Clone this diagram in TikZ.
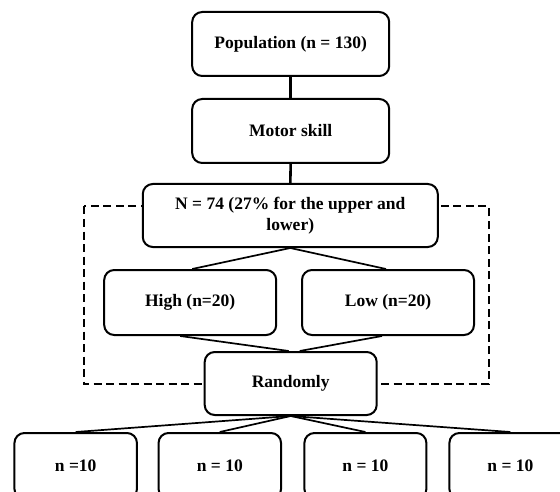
\documentclass[tikz,border=0pt]{standalone}
\usepackage{fontspec}
\setmainfont{Liberation Serif}
\usetikzlibrary{calc}
\tikzset{
  box/.style={draw, line width=2pt, rounded corners=10pt, fill=white, align=center,
    inner sep=0pt, font=\fontsize{17.5}{20.5}\selectfont\bfseries},
  link/.style={line width=1.7pt},
  vlink/.style={line width=2.6pt},
  dashbox/.style={line width=2pt, dash pattern=on 8pt off 4.5pt}
}
\begin{document}
\begin{tikzpicture}[x=1pt,y=-1pt]
\useasboundingbox (0,0) rectangle (560,492);
\clip (0,0) rectangle (560,492);
\fill[white] (0,0) rectangle (560,492);
% dashed frame
\draw[dashbox] (83.5,206.5) rectangle (488.5,384);
% boxes
\node[box, minimum width=197pt, minimum height=64pt] (pop) at (290.7,44) {Population (n = 130)};
\node[box, minimum width=197pt, minimum height=64pt] (motor) at (290.7,131) {Motor skill};
\node[box, minimum width=295pt, minimum height=63pt] (nbox) at (290.3,215.5) {N = 74 (27\% for the upper and\\lower)};
\node[box, minimum width=172pt, minimum height=65pt] (high) at (190.2,302.5) {High (n=20)};
\node[box, minimum width=172pt, minimum height=65pt] (low) at (388,302.5) {Low (n=20)};
\node[box, minimum width=172pt, minimum height=63pt] (rand) at (290.7,383.5) {Randomly};
\node[box, minimum width=122.5pt, minimum height=66pt] (g1) at (75.7,466) {n =10};
\node[box, minimum width=122.5pt, minimum height=66pt] (g2) at (219.8,466) {n = 10};
\node[box, minimum width=122pt, minimum height=66pt] (g3) at (365.4,466) {n = 10};
\node[box, minimum width=122pt, minimum height=66pt] (g4) at (510.4,466) {n = 10};
% connectors
\draw[vlink] (pop.south) -- (motor.north);
\draw[vlink] (motor.south) -- (nbox.north);
\draw[link] (nbox.south) -- ($(high.north)+(2,0)$);
\draw[link] (nbox.south) -- ($(low.north)+(-2,0)$);
\draw[link] ($(high.south)+(-10,0)$) -- ($(rand.north)+(-2,0)$);
\draw[link] ($(low.south)+(-6,0)$) -- ($(rand.north)+(9,0)$);
\draw[link] (rand.south) -- (g1.north);
\draw[link] (rand.south) -- (g2.north);
\draw[link] (rand.south) -- (g3.north);
\draw[link] (rand.south) -- (g4.north);
\end{tikzpicture}
\end{document}
